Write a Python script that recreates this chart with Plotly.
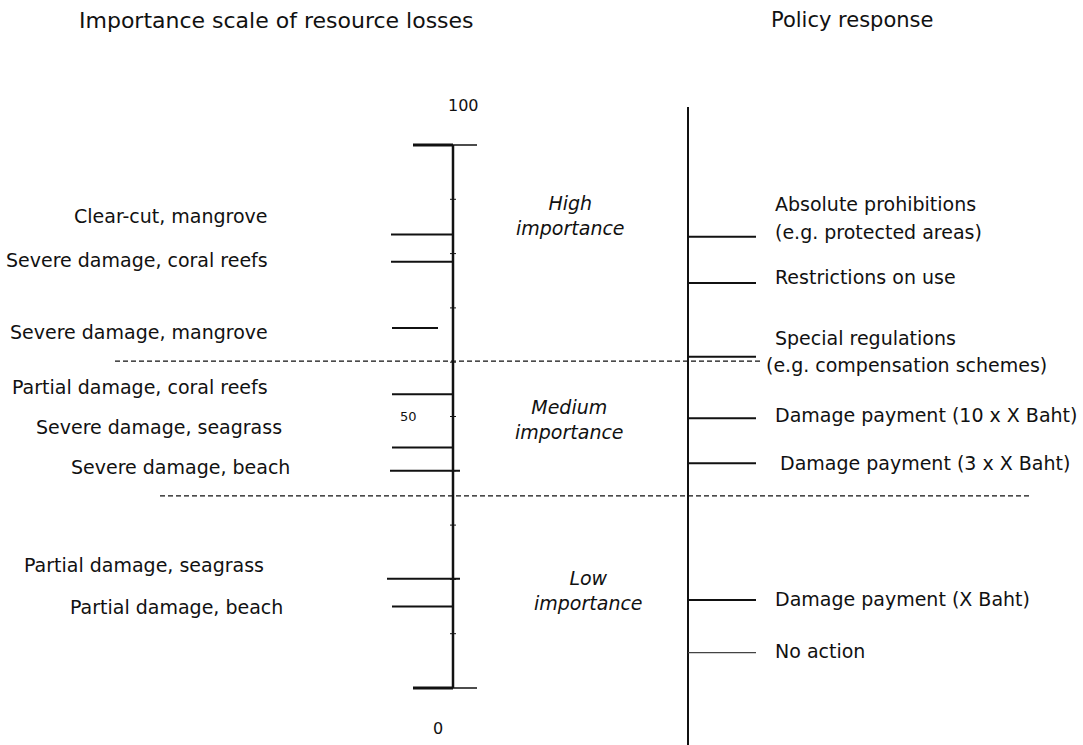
import plotly.graph_objects as go

# ---------------- data ----------------
loss_labels = ["Clear-cut, mangrove", "Severe damage, coral reefs", "Severe damage, mangrove",
               "Partial damage, coral reefs", "Severe damage, seagrass", "Severe damage, beach",
               "Partial damage, seagrass", "Partial damage, beach"]
loss_scores = [83.5, 78.5, 66.3, 54.1, 44.3, 40.0, 20.1, 15.0]

policy_labels = ["Absolute prohibitions<br>(e.g. protected areas)", "Restrictions on use",
                 "Special regulations<br>(e.g. compensation schemes)",
                 "Damage payment (10 x X Baht)", "Damage payment (3 x X Baht)",
                 "Damage payment (X Baht)", "No action"]
policy_scores = [83.1, 74.6, 61.0, 49.7, 41.4, 16.2, 6.5]

band_limits = [35.4, 60.2]
band_labels = ["Low<br>importance", "Medium<br>importance", "High<br>importance"]
band_label_pos = [17.9, 49.4, 87.0]

scale_min, scale_max = 0, 100
scale_ticks = [0, 50, 100]
minor_ticks = [10, 20, 30, 40, 50, 60, 70, 80, 90]

title_left = "Importance scale of resource losses"
title_right = "Policy response"

# ---------------- layout helpers (pixel-ish x positions) ----------------
W, H = 1083, 745
PX_PER_UNIT = 5.43
Y0_PIX = 688
ymin = -(H - Y0_PIX) / PX_PER_UNIT
ymax = ymin + H / PX_PER_UNIT

AX_L = 453
AX_R = 688
FONT = "DejaVu Sans, Verdana, sans-serif"
FS = 19
BLACK = "#111111"

# left label pixel offsets (positive = above line) & tick spans
loss_label_shift = [19, 2, -4, 7, 20, 4, 14, 0]
loss_label_right = [270, 270, 270, 270, 284, 292, 266, 285]
loss_tick_span = [(391, 453), (391, 453), (392, 438), (392, 453), (392, 453),
                  (390, 460), (387, 460), (392, 453)]
policy_label_x = [773, 773, 764, 773, 778, 773, 773]
policy_label_shift = [0, 6, 0, 3, 0, 1, 2]
band_label_x = [588, 569, 570]

fig = go.Figure()
shapes = []
annotations = []


def txt(**kw):
    f = dict(size=FS, color=BLACK, family=FONT)
    f.update(kw.pop("font", {}))
    d = dict(showarrow=False, font=f)
    d.update(kw)
    annotations.append(d)


# left axis
shapes.append(dict(type="line", x0=AX_L, x1=AX_L, y0=scale_min, y1=scale_max,
                   line=dict(color=BLACK, width=2.5)))
for v in [scale_min, scale_max]:
    shapes.append(dict(type="line", x0=413, x1=AX_L, y0=v, y1=v, line=dict(color=BLACK, width=3)))
    shapes.append(dict(type="line", x0=AX_L, x1=477, y0=v, y1=v, line=dict(color=BLACK, width=1.5)))
for v in minor_ticks:
    shapes.append(dict(type="line", x0=AX_L - 3, x1=AX_L + 3, y0=v, y1=v, line=dict(color=BLACK, width=1)))

# right axis
top_r = scale_max + (145 - 107) / PX_PER_UNIT
bot_r = ymin
shapes.append(dict(type="line", x0=AX_R, x1=AX_R, y0=bot_r, y1=top_r, line=dict(color=BLACK, width=2)))

# dashed band limits
shapes.append(dict(type="line", x0=115, x1=762, y0=band_limits[1], y1=band_limits[1],
                   line=dict(color=BLACK, width=1.2, dash="5px,3px")))
shapes.append(dict(type="line", x0=160, x1=1030, y0=band_limits[0], y1=band_limits[0],
                   line=dict(color=BLACK, width=1.2, dash="5px,3px")))

# loss ticks + labels
for lab, v, sh, xr, (xa, xb) in zip(loss_labels, loss_scores, loss_label_shift, loss_label_right, loss_tick_span):
    shapes.append(dict(type="line", x0=xa, x1=xb, y0=v, y1=v, line=dict(color=BLACK, width=2)))
    txt(x=xr, y=v, yshift=sh, text=lab, xanchor="right", yanchor="middle")

# policy ticks + labels
for i, (lab, v) in enumerate(zip(policy_labels, policy_scores)):
    w = 1.2 if lab == "No action" else 2
    col = "#444444" if lab == "No action" else BLACK
    shapes.append(dict(type="line", x0=AX_R, x1=756, y0=v, y1=v, line=dict(color=col, width=w)))
    if "<br>" in lab:
        l1, l2 = lab.split("<br>")
        if i == 0:
            txt(x=773, y=v, yshift=33, text=l1, xanchor="left", yanchor="middle")
            txt(x=773, y=v, yshift=5, text=l2, xanchor="left", yanchor="middle")
        else:
            txt(x=773, y=v, yshift=19, text=l1, xanchor="left", yanchor="middle")
            txt(x=764, y=v, yshift=-8, text=l2, xanchor="left", yanchor="middle")
    else:
        txt(x=policy_label_x[i], y=v, yshift=policy_label_shift[i], text=lab,
            xanchor="left", yanchor="middle")

# band labels
for lab, v, bx in zip(band_labels, band_label_pos, band_label_x):
    txt(x=bx, y=v, text="<i>" + lab + "</i>", xanchor="center", yanchor="middle")

# scale numbers
txt(x=463, y=scale_ticks[2], yshift=40, text=str(scale_ticks[2]), font=dict(size=16))
txt(x=408, y=scale_ticks[1], text=str(scale_ticks[1]), font=dict(size=13))
txt(x=438, y=scale_ticks[0], yshift=-40, text=str(scale_ticks[0]), font=dict(size=16))

# titles
txt(x=276, y=ymax, yshift=-20, text=title_left, yanchor="middle", font=dict(size=22))
txt(x=852, y=ymax, yshift=-20, text=title_right, yanchor="middle", font=dict(size=21))

fig.update_layout(
    width=W, height=H, margin=dict(l=0, r=0, t=0, b=0),
    paper_bgcolor="white", plot_bgcolor="white",
    xaxis=dict(range=[0, W], visible=False, fixedrange=True),
    yaxis=dict(range=[ymin, ymax], visible=False, fixedrange=True),
    shapes=shapes, annotations=annotations, showlegend=False,
)
fig.write_html("out.html", config={"displayModeBar": False},
               post_script="document.body.style.margin='0';document.body.style.overflow='hidden';")
